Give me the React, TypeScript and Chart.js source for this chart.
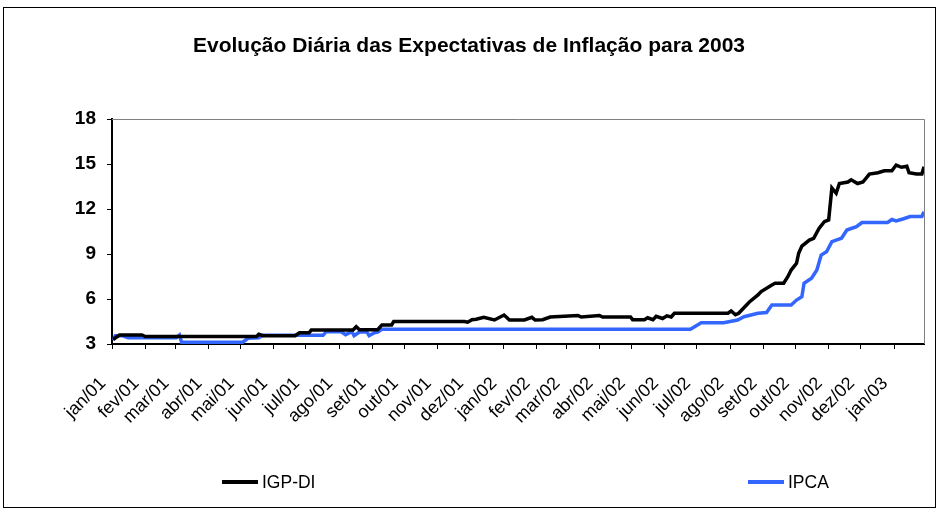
import React, { useEffect, useRef } from 'react';
import { Chart, registerables } from 'chart.js';

Chart.register(...registerables);

const chartTitle = 'Evolução Diária das Expectativas de Inflação para 2003';

const axisStart = '2001-01-01';
const axisEnd = '2003-01-29';

const monthTickDates = [
  '2001-01-01', '2001-02-01', '2001-03-01', '2001-04-01', '2001-05-01', '2001-06-01',
  '2001-07-01', '2001-08-01', '2001-09-01', '2001-10-01', '2001-11-01', '2001-12-01',
  '2002-01-01', '2002-02-01', '2002-03-01', '2002-04-01', '2002-05-01', '2002-06-01',
  '2002-07-01', '2002-08-01', '2002-09-01', '2002-10-01', '2002-11-01', '2002-12-01',
  '2003-01-01',
];
const monthTickLabels = [
  'jan/01', 'fev/01', 'mar/01', 'abr/01', 'mai/01', 'jun/01',
  'jul/01', 'ago/01', 'set/01', 'out/01', 'nov/01', 'dez/01',
  'jan/02', 'fev/02', 'mar/02', 'abr/02', 'mai/02', 'jun/02',
  'jul/02', 'ago/02', 'set/02', 'out/02', 'nov/02', 'dez/02',
  'jan/03',
];

const yMin = 3;
const yMax = 18;
const yStep = 3;

const igpLabel = 'IGP-DI';
const igpDates = [
  '2001-01-02', '2001-01-08', '2001-01-29', '2001-02-01', '2001-05-16', '2001-05-18',
  '2001-05-22', '2001-06-21', '2001-06-25', '2001-07-04', '2001-07-06', '2001-08-14',
  '2001-08-17', '2001-08-20', '2001-09-06', '2001-09-10', '2001-09-19', '2001-09-21',
  '2001-11-26', '2001-11-29', '2001-12-03', '2001-12-07', '2001-12-14', '2001-12-24',
  '2002-01-02', '2002-01-07', '2002-01-21', '2002-01-28', '2002-01-31', '2002-02-07',
  '2002-02-14', '2002-03-12', '2002-03-15', '2002-04-01', '2002-04-04', '2002-04-30',
  '2002-05-02', '2002-05-13', '2002-05-16', '2002-05-21', '2002-05-24', '2002-05-30',
  '2002-06-03', '2002-06-07', '2002-06-10', '2002-07-30', '2002-08-02', '2002-08-06',
  '2002-08-09', '2002-08-15', '2002-08-19', '2002-08-27', '2002-08-30', '2002-09-09',
  '2002-09-12', '2002-09-20', '2002-09-24', '2002-09-27', '2002-10-02', '2002-10-04',
  '2002-10-07', '2002-10-14', '2002-10-18', '2002-10-23', '2002-10-28', '2002-11-01',
  '2002-11-04', '2002-11-08', '2002-11-11', '2002-11-19', '2002-11-22', '2002-11-28',
  '2002-12-03', '2002-12-09', '2002-12-17', '2002-12-23', '2002-12-30', '2003-01-03',
  '2003-01-08', '2003-01-13', '2003-01-15', '2003-01-22', '2003-01-27', '2003-01-29',
];
const igpValues = [
  3.3, 3.6, 3.6, 3.5, 3.5, 3.65,
  3.55, 3.55, 3.75, 3.75, 3.93, 3.93,
  4.15, 3.95, 3.95, 4.27, 4.27, 4.5,
  4.5, 4.45, 4.62, 4.65, 4.78, 4.6,
  4.93, 4.6, 4.6, 4.78, 4.6, 4.62,
  4.8, 4.9, 4.8, 4.9, 4.8, 4.8,
  4.62, 4.62, 4.75, 4.62, 4.85, 4.7,
  4.88, 4.8, 5.05, 5.05, 5.2, 4.95,
  5.05, 5.5, 5.8, 6.27, 6.5, 6.93,
  7.05, 7.05, 7.5, 7.93, 8.38, 9.05,
  9.53, 9.93, 10.05, 10.7, 11.15, 11.27,
  13.4, 13.05, 13.7, 13.8, 13.95, 13.7,
  13.8, 14.33, 14.42, 14.55, 14.55, 14.93,
  14.78, 14.85, 14.42, 14.33, 14.33, 14.82,
];

const ipcaLabel = 'IPCA';
const ipcaDates = [
  '2001-01-02', '2001-01-04', '2001-01-11', '2001-01-16', '2001-03-02', '2001-03-05',
  '2001-03-07', '2001-05-03', '2001-05-08', '2001-05-18', '2001-05-22', '2001-07-17',
  '2001-07-20', '2001-08-03', '2001-08-07', '2001-08-13', '2001-08-15', '2001-08-20',
  '2001-08-27', '2001-08-29', '2001-09-03', '2001-09-06', '2001-09-10', '2002-06-25',
  '2002-07-05', '2002-07-26', '2002-08-08', '2002-08-14', '2002-08-27', '2002-09-04',
  '2002-09-09', '2002-09-27', '2002-10-02', '2002-10-07', '2002-10-09', '2002-10-16',
  '2002-10-21', '2002-10-25', '2002-10-30', '2002-11-04', '2002-11-08', '2002-11-13',
  '2002-11-18', '2002-11-22', '2002-11-27', '2002-12-02', '2002-12-26', '2002-12-30',
  '2003-01-03', '2003-01-10', '2003-01-16', '2003-01-27', '2003-01-29',
];
const ipcaValues = [
  3.27, 3.55, 3.55, 3.42, 3.42, 3.6,
  3.12, 3.12, 3.38, 3.42, 3.58, 3.58,
  3.82, 3.82, 3.62, 3.82, 3.55, 3.8,
  3.8, 3.55, 3.75, 3.8, 3.98, 3.98,
  4.42, 4.42, 4.6, 4.82, 5.05, 5.1,
  5.6, 5.6, 5.93, 6.15, 7.05, 7.38,
  7.93, 8.93, 9.15, 9.82, 9.93, 10.05,
  10.6, 10.7, 10.82, 11.1, 11.1, 11.3,
  11.2, 11.35, 11.5, 11.5, 11.82,
];

const dayIndex = (s: string) => (Date.parse(s) - Date.parse(axisStart)) / 86400000;
const tickDays = monthTickDates.map(dayIndex);

const FONT = '"Liberation Sans", Arial, sans-serif';

const decorPlugin = {
  id: 'decor',
  beforeDatasetsDraw(chart: any) {
    const { ctx, chartArea } = chart;
    ctx.save();
    ctx.strokeStyle = '#808080';
    ctx.lineWidth = 1;
    ctx.beginPath();
    ctx.moveTo(chartArea.left, Math.round(chartArea.top) + 0.5);
    ctx.lineTo(Math.round(chartArea.right) + 0.5, Math.round(chartArea.top) + 0.5);
    ctx.lineTo(Math.round(chartArea.right) + 0.5, chartArea.bottom);
    ctx.stroke();
    ctx.restore();
  },
  afterDraw(chart: any) {
    const { ctx } = chart;
    ctx.save();
    // outer frame
    ctx.strokeStyle = '#000';
    ctx.lineWidth = 1;
    ctx.strokeRect(3.5, 7.5, 932, 500);
    // title
    ctx.fillStyle = '#000';
    ctx.font = `bold 21px ${FONT}`;
    ctx.textAlign = 'center';
    ctx.textBaseline = 'middle';
    ctx.fillText(chartTitle, 469, 46);
    // legend
    const legendX = [222, 748];
    const legendY = 482;
    chart.data.datasets.forEach((ds: any, i: number) => {
      const x = legendX[i];
      ctx.strokeStyle = ds.borderColor;
      ctx.lineWidth = 4;
      ctx.beginPath();
      ctx.moveTo(x, legendY);
      ctx.lineTo(x + 36, legendY);
      ctx.stroke();
      ctx.fillStyle = '#000';
      ctx.font = `17.5px ${FONT}`;
      ctx.textAlign = 'left';
      ctx.textBaseline = 'middle';
      ctx.fillText(ds.label, x + 40, legendY + 1);
    });
    ctx.restore();
  },
};

export default function App() {
  const canvasRef = useRef<HTMLCanvasElement | null>(null);

  useEffect(() => {
    const canvas = canvasRef.current;
    if (!canvas) return;
    const chart = new Chart(canvas, {
      type: 'line',
      data: {
        datasets: [
          {
            label: igpLabel,
            data: igpDates.map((d, i) => ({ x: dayIndex(d), y: igpValues[i] })),
            borderColor: '#000000',
            backgroundColor: '#000000',
            borderWidth: 3.5,
            pointRadius: 0,
            tension: 0,
          },
          {
            label: ipcaLabel,
            data: ipcaDates.map((d, i) => ({ x: dayIndex(d), y: ipcaValues[i] })),
            borderColor: '#3366ff',
            backgroundColor: '#3366ff',
            borderWidth: 3.5,
            pointRadius: 0,
            tension: 0,
          },
        ],
      },
      options: {
        responsive: false,
        animation: false,
        events: [],
        layout: { padding: { left: 0, top: 119, right: 15, bottom: 0 } },
        plugins: {
          legend: { display: false },
          title: { display: false },
          tooltip: { enabled: false },
        },
        scales: {
          x: {
            type: 'linear',
            min: 0,
            max: dayIndex(axisEnd),
            afterBuildTicks: (scale: any) => {
              scale.ticks = tickDays.map((v) => ({ value: v }));
            },
            afterFit: (scale: any) => {
              scale.height = 168;
            },
            ticks: {
              autoSkip: false,
              minRotation: 45,
              maxRotation: 45,
              padding: 24,
              labelOffset: -9,
              color: '#000',
              font: { family: FONT, size: 18 },
              callback: (value: any) => {
                const i = tickDays.indexOf(Number(value));
                return i >= 0 ? monthTickLabels[i] : '';
              },
            },
            grid: { drawOnChartArea: false, tickLength: 5, color: '#000', lineWidth: 1 },
            border: { color: '#000', width: 2 },
          },
          y: {
            min: yMin,
            max: yMax,
            afterFit: (scale: any) => {
              scale.width = 112;
            },
            ticks: {
              stepSize: yStep,
              padding: 11,
              color: '#000',
              font: { family: FONT, size: 19, weight: 'bold' },
            },
            grid: { drawOnChartArea: false, tickLength: 5, color: '#000', lineWidth: 1 },
            border: { color: '#000', width: 2 },
          },
        },
      },
      plugins: [decorPlugin],
    });
    return () => chart.destroy();
  }, []);

  return (
    <div style={{ position: 'fixed', left: 0, top: 0, width: 939, height: 512, background: '#fff' }}>
      <canvas ref={canvasRef} width={939} height={512} style={{ display: 'block' }} />
    </div>
  );
}
